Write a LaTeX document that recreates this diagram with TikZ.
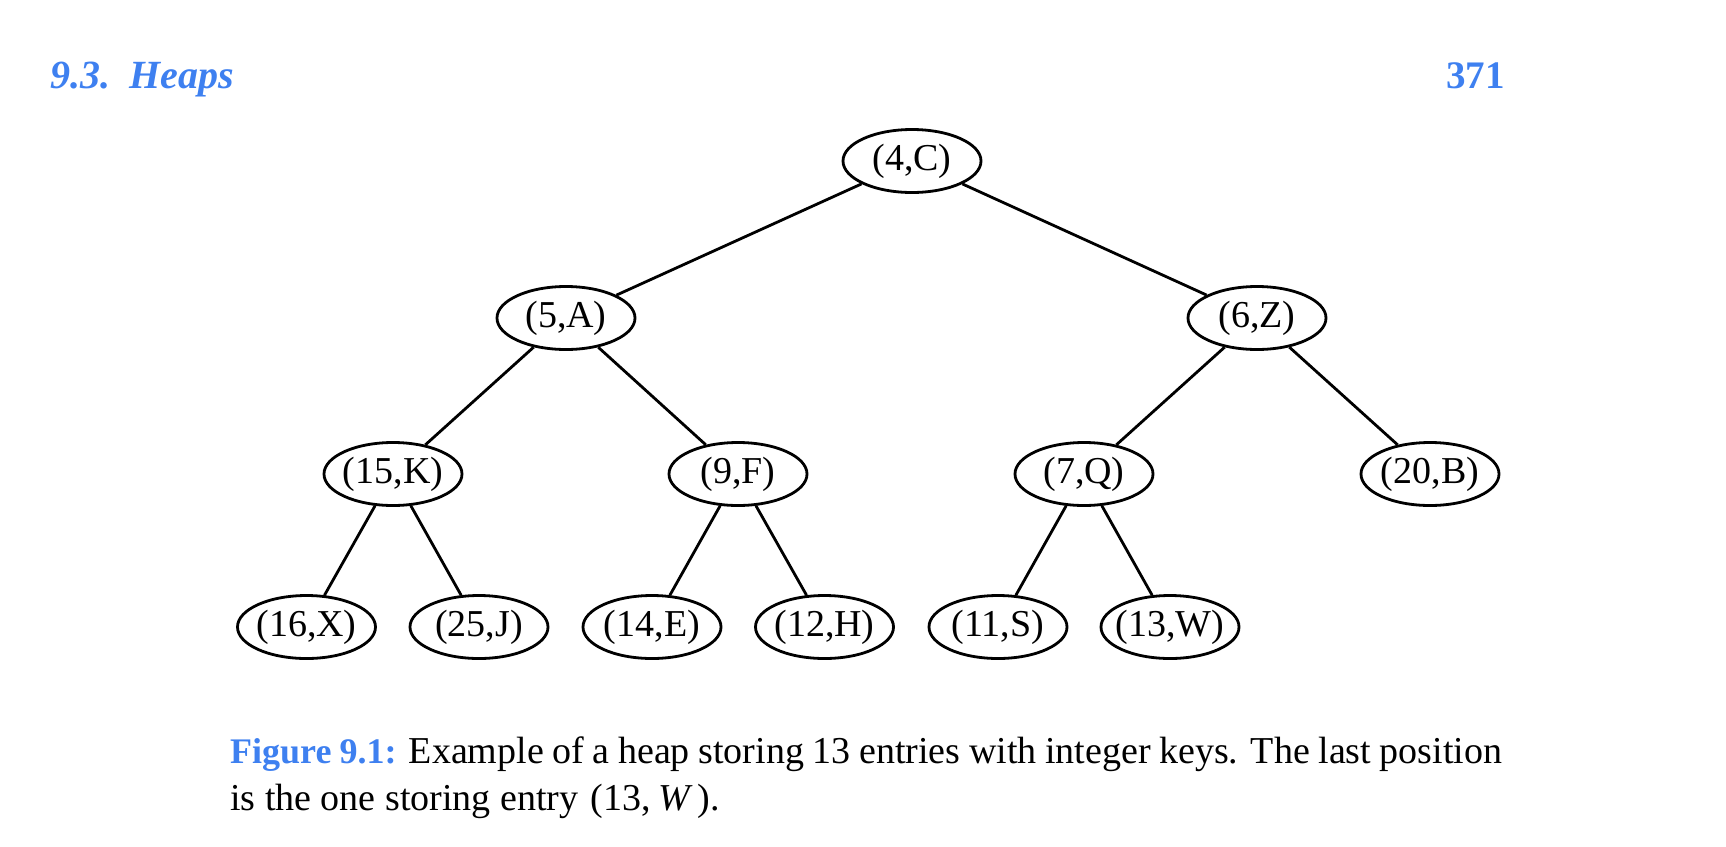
\documentclass[tikz,border=0pt]{standalone}
\usepackage{fontspec}
\setmainfont{Liberation Serif}
\usetikzlibrary{shapes.geometric}
\definecolor{hdrblue}{RGB}{62,128,240}
\newcommand{\hk}[1]{\makebox[0pt][c]{#1}}
\tikzset{
  heapnode/.style={ellipse, draw, line width=2.8pt, minimum width=138pt, minimum height=63pt, inner sep=0pt, font=\fontsize{38}{45}\selectfont},
  edge/.style={line width=2.8pt},
  captext/.style={anchor=base west, inner sep=0pt, font=\fontsize{38}{46}\selectfont}
}
\begin{document}
\begin{tikzpicture}[x=1pt,y=-1pt]
\useasboundingbox (0,0) rectangle (1726,846);
% header
\node[anchor=base west, inner sep=0pt, text=hdrblue, font=\fontsize{40}{46}\selectfont\bfseries\itshape] (hdr) at (50,88) {9.3.\hspace{19pt}Heaps};
\node[anchor=base east, inner sep=0pt, text=hdrblue, font=\fontsize{39}{46}\selectfont\bfseries] (pg) at (1505,88) {371};
% tree
\node[heapnode] (r) at (912,161) {\hk{(4,C)}};
\node[heapnode] (a) at (566,318) {\hk{(5,A)}};
\node[heapnode] (z) at (1257,318) {\hk{(6,Z)}};
\node[heapnode] (k) at (393,474) {\hk{(15,K)}};
\node[heapnode] (f) at (738,474) {\hk{(9,F)}};
\node[heapnode] (q) at (1084,474) {\hk{(7,Q)}};
\node[heapnode] (b) at (1430,474) {\hk{(20,B)}};
\node[heapnode] (x) at (306.5,627) {\hk{(16,X)}};
\node[heapnode] (j) at (479,627) {\hk{(25,J)}};
\node[heapnode] (e) at (652,627) {\hk{(14,E)}};
\node[heapnode] (h) at (824.5,627) {\hk{(12,H)}};
\node[heapnode] (s) at (998,627) {\hk{(11,S)}};
\node[heapnode] (w) at (1170,627) {\hk{(13,W)}};
\draw[edge] (r) -- (a);
\draw[edge] (r) -- (z);
\draw[edge] (a) -- (k);
\draw[edge] (a) -- (f);
\draw[edge] (z) -- (q);
\draw[edge] (z) -- (b);
\draw[edge] (k) -- (x);
\draw[edge] (k) -- (j);
\draw[edge] (f) -- (e);
\draw[edge] (f) -- (h);
\draw[edge] (q) -- (s);
\draw[edge] (q) -- (w);
% caption
\node[captext] (cap1) at (230,763) {\makebox[1272pt][s]{\textcolor{hdrblue}{\fontsize{36}{46}\selectfont\bfseries Figure 9.1:} Example of a heap storing 13 entries with integer keys. The last position}};
\node[captext] (cap2) at (230,810) {is the one storing entry \kern3pt(13,\hspace{7pt}\textit{W}\kern5pt).};
\end{tikzpicture}
\end{document}
